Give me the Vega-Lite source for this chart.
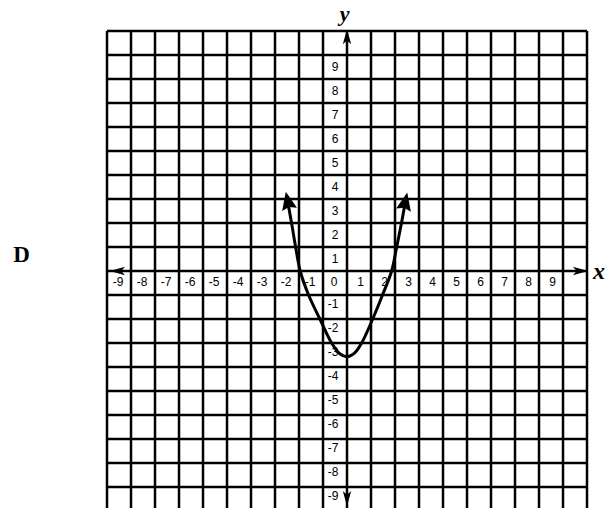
{
  "$schema": "https://vega.github.io/schema/vega-lite/v6.json",
  "width": 480,
  "height": 477,
  "autosize": {"type": "none"},
  "padding": {"left": 107, "top": 31, "right": 28, "bottom": 0},
  "background": "white",
  "config": {"view": {"stroke": null}},
  "datasets": {
    "grid": [
      {"v": -10}, {"v": -9}, {"v": -8}, {"v": -7}, {"v": -6}, {"v": -5}, {"v": -4}, {"v": -3}, {"v": -2}, {"v": -1},
      {"v": 0}, {"v": 1}, {"v": 2}, {"v": 3}, {"v": 4}, {"v": 5}, {"v": 6}, {"v": 7}, {"v": 8}, {"v": 9}, {"v": 10}
    ],
    "curve": [
      {"x": -2.5, "y": 3.05}, {"x": -2.31, "y": 2.0}, {"x": -2.14, "y": 1.0}, {"x": -1.95, "y": 0.0},
      {"x": -1.6, "y": -1.0}, {"x": -1.13, "y": -2.0}, {"x": -0.64, "y": -3.0}, {"x": -0.3, "y": -3.45},
      {"x": 0.0, "y": -3.57}, {"x": 0.3, "y": -3.43}, {"x": 0.61, "y": -3.0}, {"x": 1.07, "y": -2.0},
      {"x": 1.48, "y": -1.0}, {"x": 1.86, "y": 0.0}, {"x": 2.07, "y": 1.0}, {"x": 2.27, "y": 2.0},
      {"x": 2.46, "y": 3.05}
    ],
    "xlab": [
      {"v": -9, "t": "-9"}, {"v": -8, "t": "-8"}, {"v": -7, "t": "-7"}, {"v": -6, "t": "-6"}, {"v": -5, "t": "-5"},
      {"v": -4, "t": "-4"}, {"v": -3, "t": "-3"}, {"v": -2, "t": "-2"}, {"v": -1, "t": "-1"}, {"v": 0, "t": "0"},
      {"v": 1, "t": "1"}, {"v": 2, "t": "2"}, {"v": 3, "t": "3"}, {"v": 4, "t": "4"}, {"v": 5, "t": "5"},
      {"v": 6, "t": "6"}, {"v": 7, "t": "7"}, {"v": 8, "t": "8"}, {"v": 9, "t": "9"}
    ],
    "ylab": [
      {"v": 9, "t": "9"}, {"v": 8, "t": "8"}, {"v": 7, "t": "7"}, {"v": 6, "t": "6"}, {"v": 5, "t": "5"},
      {"v": 4, "t": "4"}, {"v": 3, "t": "3"}, {"v": 2, "t": "2"}, {"v": 1, "t": "1"},
      {"v": -1, "t": "-1"}, {"v": -2, "t": "-2"}, {"v": -3, "t": "-3"}, {"v": -4, "t": "-4"}, {"v": -5, "t": "-5"},
      {"v": -6, "t": "-6"}, {"v": -7, "t": "-7"}, {"v": -8, "t": "-8"}, {"v": -9, "t": "-9"}
    ]
  },
  "layer": [
    {
      "data": {"name": "grid"},
      "mark": {"type": "rule", "color": "black", "strokeWidth": 2.5},
      "encoding": {
        "x": {"field": "v", "type": "quantitative", "axis": null,
              "scale": {"domain": [-10, 10], "nice": false, "zero": false}}
      }
    },
    {
      "data": {"name": "grid"},
      "transform": [{"filter": "datum.v > -10"}],
      "mark": {"type": "rule", "color": "black", "strokeWidth": 2.5},
      "encoding": {
        "y": {"field": "v", "type": "quantitative", "axis": null,
              "scale": {"domain": [-9.875, 10], "nice": false, "zero": false}}
      }
    },
    {
      "data": {"name": "curve"},
      "mark": {"type": "line", "color": "black", "strokeWidth": 3, "interpolate": "catmull-rom"},
      "encoding": {
        "x": {"field": "x", "type": "quantitative", "axis": null},
        "y": {"field": "y", "type": "quantitative", "axis": null}
      }
    },
    {
      "data": {"name": "xlab"},
      "transform": [{"filter": "datum.v <= 0"}],
      "mark": {"type": "text", "font": "Liberation Sans", "fontSize": 12, "color": "black", "align": "center", "baseline": "middle", "dx": -13, "dy": 11},
      "encoding": {
        "x": {"field": "v", "type": "quantitative", "axis": null},
        "y": {"datum": 0, "type": "quantitative", "axis": null},
        "text": {"field": "t", "type": "nominal"}
      }
    },
    {
      "data": {"name": "xlab"},
      "transform": [{"filter": "datum.v > 0"}],
      "mark": {"type": "text", "font": "Liberation Sans", "fontSize": 12, "color": "black", "align": "center", "baseline": "middle", "dx": -10.5, "dy": 11},
      "encoding": {
        "x": {"field": "v", "type": "quantitative", "axis": null},
        "y": {"datum": 0, "type": "quantitative", "axis": null},
        "text": {"field": "t", "type": "nominal"}
      }
    },
    {
      "data": {"name": "ylab"},
      "transform": [{"filter": "datum.v > 0"}],
      "mark": {"type": "text", "font": "Liberation Sans", "fontSize": 12, "color": "black", "align": "center", "baseline": "middle", "dx": -12, "dy": 12},
      "encoding": {
        "x": {"datum": 0, "type": "quantitative", "axis": null},
        "y": {"field": "v", "type": "quantitative", "axis": null},
        "text": {"field": "t", "type": "nominal"}
      }
    },
    {
      "data": {"name": "ylab"},
      "transform": [{"filter": "datum.v < 0"}],
      "mark": {"type": "text", "font": "Liberation Sans", "fontSize": 12, "color": "black", "align": "center", "baseline": "middle", "dx": -14, "dy": 9},
      "encoding": {
        "x": {"datum": 0, "type": "quantitative", "axis": null},
        "y": {"field": "v", "type": "quantitative", "axis": null},
        "text": {"field": "t", "type": "nominal"}
      }
    },
    {
      "data": {"values": [{}]},
      "mark": {"type": "point", "shape": "M0,0L0.42,1L0,0.86L-0.42,1Z", "size": 1296, "angle": -12, "filled": true, "color": "black", "opacity": 1, "strokeWidth": 0},
      "encoding": {"x": {"datum": -2.55, "type": "quantitative", "axis": null}, "y": {"datum": 3.3, "type": "quantitative", "axis": null}}
    },
    {
      "data": {"values": [{}]},
      "mark": {"type": "point", "shape": "M0,0L0.42,1L0,0.86L-0.42,1Z", "size": 1296, "angle": 12, "filled": true, "color": "black", "opacity": 1, "strokeWidth": 0},
      "encoding": {"x": {"datum": 2.51, "type": "quantitative", "axis": null}, "y": {"datum": 3.27, "type": "quantitative", "axis": null}}
    },
    {
      "data": {"values": [{}]},
      "mark": {"type": "point", "shape": "M0,0L0.28,1L0,0.75L-0.28,1Z", "size": 900, "angle": 0, "filled": true, "color": "black", "opacity": 1, "strokeWidth": 0},
      "encoding": {"x": {"datum": 0, "type": "quantitative", "axis": null}, "y": {"datum": 10.07, "type": "quantitative", "axis": null}}
    },
    {
      "data": {"values": [{}]},
      "mark": {"type": "point", "shape": "M0,0L0.28,1L0,0.75L-0.28,1Z", "size": 900, "angle": 180, "filled": true, "color": "black", "opacity": 1, "strokeWidth": 0},
      "encoding": {"x": {"datum": 0, "type": "quantitative", "axis": null}, "y": {"datum": -9.79, "type": "quantitative", "axis": null}}
    },
    {
      "data": {"values": [{}]},
      "mark": {"type": "point", "shape": "M0,0L0.28,1L0,0.75L-0.28,1Z", "size": 900, "angle": -90, "filled": true, "color": "black", "opacity": 1, "strokeWidth": 0},
      "encoding": {"x": {"datum": -9.875, "type": "quantitative", "axis": null}, "y": {"datum": 0, "type": "quantitative", "axis": null}}
    },
    {
      "data": {"values": [{}]},
      "mark": {"type": "point", "shape": "M0,0L0.28,1L0,0.75L-0.28,1Z", "size": 900, "angle": 90, "filled": true, "color": "black", "opacity": 1, "strokeWidth": 0},
      "encoding": {"x": {"datum": 10.04, "type": "quantitative", "axis": null}, "y": {"datum": 0, "type": "quantitative", "axis": null}}
    },
    {
      "data": {"values": [{}]},
      "mark": {"type": "text", "text": "y", "font": "Liberation Serif", "fontSize": 22, "fontWeight": "bold", "fontStyle": "italic", "color": "black", "align": "center", "baseline": "alphabetic"},
      "encoding": {"x": {"datum": -0.1, "type": "quantitative", "axis": null}, "y": {"datum": 10.42, "type": "quantitative", "axis": null}}
    },
    {
      "data": {"values": [{}]},
      "mark": {"type": "text", "text": "x", "font": "Liberation Serif", "fontSize": 24, "fontWeight": "bold", "fontStyle": "italic", "color": "black", "align": "center", "baseline": "alphabetic"},
      "encoding": {"x": {"datum": 10.5, "type": "quantitative", "axis": null}, "y": {"datum": -0.35, "type": "quantitative", "axis": null}}
    },
    {
      "data": {"values": [{}]},
      "mark": {"type": "text", "text": "D", "font": "Liberation Serif", "fontSize": 23, "fontWeight": "bold", "color": "black", "align": "center", "baseline": "alphabetic"},
      "encoding": {"x": {"datum": -13.56, "type": "quantitative", "axis": null}, "y": {"datum": 0.36, "type": "quantitative", "axis": null}}
    }
  ]
}
